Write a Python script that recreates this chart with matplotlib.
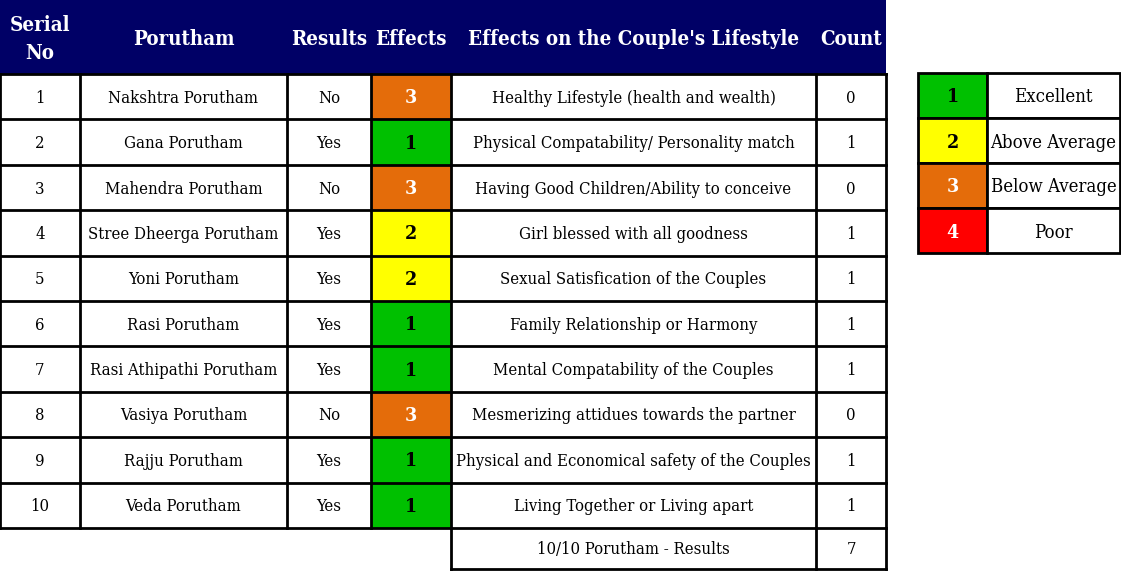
import matplotlib.pyplot as plt
from matplotlib.patches import Rectangle

# Porutham table data
serial = [1, 2, 3, 4, 5, 6, 7, 8, 9, 10]
porutham = ['Nakshtra Porutham', 'Gana Porutham', 'Mahendra Porutham', 'Stree Dheerga Porutham',
            'Yoni Porutham', 'Rasi Porutham', 'Rasi Athipathi Porutham', 'Vasiya Porutham',
            'Rajju Porutham', 'Veda Porutham']
results = ['No', 'Yes', 'No', 'Yes', 'Yes', 'Yes', 'Yes', 'No', 'Yes', 'Yes']
effects = [3, 1, 3, 2, 2, 1, 1, 3, 1, 1]
lifestyle = ['Healthy Lifestyle (health and wealth)', 'Physical Compatability/ Personality match',
             'Having Good Children/Ability to conceive', 'Girl blessed with all goodness',
             'Sexual Satisfication of the Couples', 'Family Relationship or Harmony',
             'Mental Compatability of the Couples', 'Mesmerizing attidues towards the partner',
             'Physical and Economical safety of the Couples', 'Living Together or Living apart']
count = [0, 1, 0, 1, 1, 1, 1, 0, 1, 1]
headers = ['Serial\nNo', 'Porutham', 'Results', 'Effects', "Effects on the Couple's Lifestyle", 'Count']
total_label = '10/10 Porutham - Results'

legend_codes = [1, 2, 3, 4]
legend_labels = ['Excellent', 'Above Average', 'Below Average', 'Poor']

# colours per effect code
code_fill = {1: '#00C000', 2: '#FFFF00', 3: '#E46C0A', 4: '#FF0000'}
code_text = {1: 'black', 2: 'black', 3: 'white', 4: 'white'}
navy = '#000066'

# layout (pixels)
col_x = [0, 80, 287, 371, 451, 816, 886]
head_h = 74
row_h = 45.4
font = dict(family='DejaVu Serif', fontstretch='condensed')

fig = plt.figure(figsize=(11.21, 5.72), dpi=100)
ax = fig.add_axes([0, 0, 1, 1])
ax.set_xlim(0, 1121)
ax.set_ylim(572, 0)
ax.axis('off')

# header band
ax.add_patch(Rectangle((0, 0), col_x[-1], head_h, facecolor=navy, edgecolor='none', zorder=1))
for j, h in enumerate(headers):
    xc = (col_x[j] + col_x[j + 1]) / 2
    ax.text(xc, head_h / 2 + 2, h, ha='center', va='center', color='white', fontsize=14.7,
            fontweight='bold', linespacing=1.45, zorder=3, **font)

# body rows
cols = [serial, porutham, results, effects, lifestyle, count]
for i in range(len(serial)):
    y0 = head_h + i * row_h
    yc = y0 + row_h / 2 + 1.5
    for j, col in enumerate(cols):
        x0, x1 = col_x[j], col_x[j + 1]
        if j == 3:
            fc = code_fill[col[i]]
            ax.add_patch(Rectangle((x0, y0), x1 - x0, row_h, facecolor=fc, edgecolor='none', zorder=1))
            ax.text((x0 + x1) / 2, yc, str(col[i]), ha='center', va='center',
                    color=code_text[col[i]], fontsize=14, fontweight='bold', zorder=3, **font)
        else:
            ax.text((x0 + x1) / 2, yc, str(col[i]), ha='center', va='center',
                    color='black', fontsize=12, zorder=3, **font)

# grid lines of the table
y_end = head_h + len(serial) * row_h
for x in col_x:
    ax.plot([x, x], [head_h, y_end], color='black', lw=2, zorder=2)
for i in range(len(serial) + 1):
    y = head_h + i * row_h
    ax.plot([0, col_x[-1]], [y, y], color='black', lw=2, zorder=2)

# total row
y1 = y_end + row_h * 0.9
ax.text((col_x[4] + col_x[5]) / 2, (y_end + y1) / 2 + 1.5, total_label, ha='center', va='center',
        fontsize=12, zorder=3, **font)
ax.text((col_x[5] + col_x[6]) / 2, (y_end + y1) / 2 + 1.5, str(sum(count)), ha='center', va='center',
        fontsize=12, zorder=3, **font)
for x in col_x[4:]:
    ax.plot([x, x], [y_end, y1], color='black', lw=2, zorder=2)
ax.plot([col_x[4], col_x[6]], [y1, y1], color='black', lw=2, zorder=2)

# legend table
lx = [918, 987, 1120]
ly0 = 73
for k, code in enumerate(legend_codes):
    y0 = ly0 + k * 45
    ax.add_patch(Rectangle((lx[0], y0), lx[1] - lx[0], 45, facecolor=code_fill[code],
                           edgecolor='black', lw=2, zorder=2))
    ax.add_patch(Rectangle((lx[1], y0), lx[2] - lx[1], 45, facecolor='white',
                           edgecolor='black', lw=2, zorder=2))
    ax.text((lx[0] + lx[1]) / 2, y0 + 24.5, str(code), ha='center', va='center',
            color=code_text[code], fontsize=14, fontweight='bold', zorder=3, **font)
    ax.text((lx[1] + lx[2]) / 2, y0 + 24.5, legend_labels[k], ha='center', va='center',
            fontsize=13.3, zorder=3, **font)

fig.savefig('out.png', dpi=100)
